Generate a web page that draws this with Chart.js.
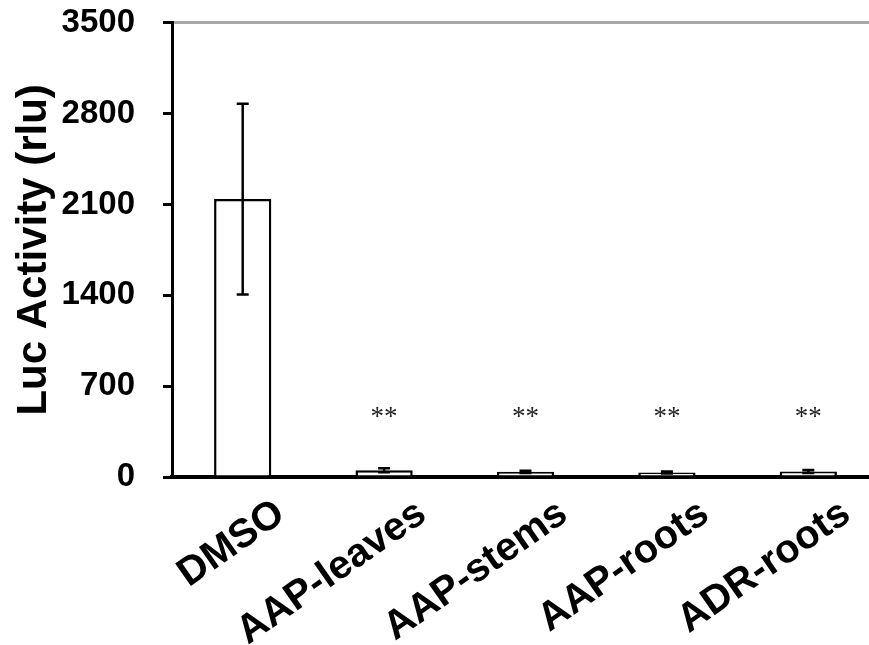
<!DOCTYPE html>
<html>
<head>
<meta charset="utf-8">
<script src="https://cdn.jsdelivr.net/npm/chart.js@4.4.1/dist/chart.umd.min.js"></script>
<style>
  html, body { margin: 0; padding: 0; background: #fff; overflow: hidden; }
  /* the plot runs a little past the right and top edges of the window */
  #wrap { position: absolute; left: 0; top: -25px; width: 879px; height: 670px; }
</style>
</head>
<body>
<div id="wrap"><canvas id="luc-chart"></canvas></div>
<script>
const categories = ['DMSO', 'AAP-leaves', 'AAP-stems', 'AAP-roots', 'ADR-roots'];
const lucMeans = [2142, 52, 40, 35, 42];
const lucErrors = [735, 16, 9, 8, 12];
const sigMarks = ['', '**', '**', '**', '**'];
const yTicks = [0, 700, 1400, 2100, 2800, 3500];

const FONT = '"Liberation Sans", Arial, sans-serif';

// error bars + significance stars on top of the bars
const errorBarPlugin = {
    id: 'errorBars',
    afterDatasetsDraw(chart) {
        const ctx = chart.ctx;
        const y = chart.scales.y;
        const meta = chart.getDatasetMeta(0);
        const base = y.getPixelForValue(0);
        ctx.save();
        ctx.strokeStyle = '#000';
        ctx.lineWidth = 2.5;
        meta.data.forEach((bar, i) => {
            const x = bar.x;
            const top = y.getPixelForValue(lucMeans[i] + lucErrors[i]);
            const bot = y.getPixelForValue(lucMeans[i] - lucErrors[i]);
            ctx.beginPath();
            ctx.moveTo(x, top); ctx.lineTo(x, bot);
            ctx.moveTo(x - 6, top); ctx.lineTo(x + 6, top);
            ctx.moveTo(x - 6, bot); ctx.lineTo(x + 6, bot);
            ctx.stroke();

            if (sigMarks[i]) {
                ctx.fillStyle = '#222';
                ctx.font = '27px "Liberation Serif", "Times New Roman", serif';
                ctx.textAlign = 'center';
                ctx.textBaseline = 'alphabetic';
                ctx.fillText(sigMarks[i], x, base - 52);
            }
        });
        ctx.restore();
    }
};

new Chart(document.getElementById('luc-chart'), {
    type: 'bar',
    data: {
        labels: categories,
        datasets: [{
            label: 'Luc Activity',
            data: lucMeans,
            backgroundColor: '#fff',
            borderColor: '#000',
            borderWidth: 2.5,
            borderSkipped: 'bottom',
            categoryPercentage: 1,
            barPercentage: 0.405
        }]
    },
    options: {
        responsive: true,
        maintainAspectRatio: false,
        animation: false,
        layout: {
            padding: { top: 4, right: 0, left: 0, bottom: 0 }
        },
        plugins: {
            legend: { display: false },
            tooltip: { enabled: false }
        },
        scales: {
            x: {
                grid: { display: false, drawTicks: false },
                border: { color: '#000', width: 4 },
                ticks: {
                    color: '#000',
                    font: { family: FONT, size: 40, weight: 'bold' },
                    minRotation: 35,
                    maxRotation: 35,
                    labelOffset: 38,
                    padding: 13,
                    autoSkip: false
                },
                afterFit: (scale) => { scale.height = 168; }
            },
            y: {
                min: 0,
                max: 3500,
                afterBuildTicks: (scale) => {
                    scale.ticks = yTicks.map(v => ({ value: v }));
                },
                grid: {
                    color: (c) => (c.tick && c.tick.value === 3500) ? '#a6a6a6' : 'rgba(0,0,0,0)',
                    lineWidth: 3,
                    tickColor: '#000',
                    tickLength: 9,
                    tickWidth: 3
                },
                border: { color: '#000', width: 3 },
                ticks: {
                    color: '#000',
                    font: { family: FONT, size: 33, weight: 'bold' },
                    padding: 28,
                    callback: (v) => String(v)
                },
                title: {
                    display: true,
                    text: 'Luc Activity (rlu)',
                    color: '#000',
                    font: { family: FONT, size: 42, weight: 'bold' },
                    padding: { top: 9, bottom: 0 }
                },
                afterFit: (scale) => { scale.width = 172; }
            }
        }
    },
    plugins: [errorBarPlugin]
});
</script>
</body>
</html>
